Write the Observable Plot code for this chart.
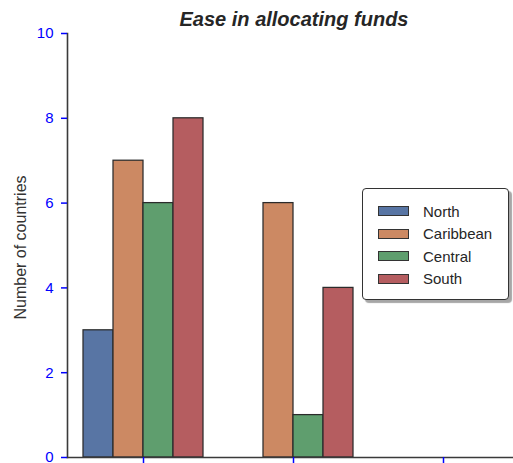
<!DOCTYPE html>
<html>
<head>
<meta charset="utf-8">
<script src="https://cdn.jsdelivr.net/npm/d3@7"></script>
<script src="https://cdn.jsdelivr.net/npm/@observablehq/plot@0.6"></script>
<style>
  body { margin: 0; background: white; }
  #wrap { position: relative; width: 513px; height: 463px; overflow: hidden; font-family: "Liberation Sans", Arial, sans-serif; background: white; }
  #title { height: 24px; line-height: 39px; padding-left: 75px; width: 438px; text-align: center; font-size: 20px; font-weight: bold; font-style: italic; color: #262626; white-space: nowrap; }
  #legend { position: absolute; left: 362px; top: 188px; width: 147px; height: 112px; border: 1px solid #333; border-radius: 4px; background: white; box-shadow: 3px 3px 1px rgba(0,0,0,0.35); padding-top: 11px; box-sizing: border-box; }
  .row { height: 22.5px; display: flex; align-items: center; font-size: 15px; color: #262626; }
  .sw { width: 29px; height: 8px; border: 1px solid #333; margin-left: 15px; margin-right: 14px; }
</style>
</head>
<body>
<div id="wrap">
  <div id="title">Ease in allocating funds</div>
  <div id="chart"></div>
  <div id="legend"></div>
</div>
<script>
const groups = ["Group 1", "Group 2", "Group 3"];
const series = ["North", "Caribbean", "Central", "South"];
const colors = ["#5875a4", "#cc8963", "#5f9e6e", "#b55d60"];
const north = [3, 0, 0];
const caribbean = [7, 6, 0];
const central = [6, 1, 0];
const south = [8, 4, 0];
const yTicks = [0, 2, 4, 6, 8, 10];
const yLabel = "Number of countries";

const values = [north, caribbean, central, south];
const data = groups.flatMap((g, gi) =>
  series.map((s, si) => ({group: g, gi, series: s, si, value: values[si][gi]}))
).filter(d => d.value > 0);

const nS = series.length;
const groupWidth = 0.8;
const bw = groupWidth / nS;

const chart = Plot.plot({
  width: 513,
  height: 439,
  marginTop: 9,
  marginBottom: 6,
  marginLeft: 67,
  marginRight: 0,
  style: {fontFamily: "'Liberation Sans', Arial, sans-serif", fontSize: "15px", background: "white", overflow: "hidden"},
  x: {type: "linear", domain: [-0.5, groups.length - 0.5], range: [68, 518], axis: null},
  y: {domain: [0, 10], axis: null},
  color: {domain: series, range: colors},
  marks: [
    Plot.rect(data, {
      x1: d => d.gi - groupWidth / 2 + d.si * bw,
      x2: d => d.gi - groupWidth / 2 + (d.si + 1) * bw,
      y1: 0,
      y2: "value",
      fill: "series",
      stroke: "#2b2b2b",
      strokeWidth: 1.25
    }),
    Plot.frame({anchor: "left", stroke: "#3a3a3a", strokeWidth: 1.6}),
    Plot.frame({anchor: "bottom", stroke: "#3a3a3a", strokeWidth: 1.6}),
    Plot.axisY({ticks: yTicks, tickSize: 6, tickPadding: 8, color: "blue", fontSize: 15, label: null, strokeWidth: 1.5}),
    Plot.axisX({ticks: groups.map((g, i) => i), tickSize: 6, tickFormat: () => "", color: "blue", label: null, strokeWidth: 1.5}),
    Plot.text([yLabel], {frameAnchor: "left", textAnchor: "middle", rotate: -90, dx: -47, dy: 2, fontSize: 16, fill: "#333"})
  ]
});
document.getElementById("chart").appendChild(chart);

const legend = document.getElementById("legend");
series.forEach((s, i) => {
  const row = document.createElement("div");
  row.className = "row";
  const sw = document.createElement("div");
  sw.className = "sw";
  sw.style.background = colors[i];
  const lab = document.createElement("span");
  lab.textContent = s;
  row.appendChild(sw);
  row.appendChild(lab);
  legend.appendChild(row);
});
</script>
</body>
</html>
